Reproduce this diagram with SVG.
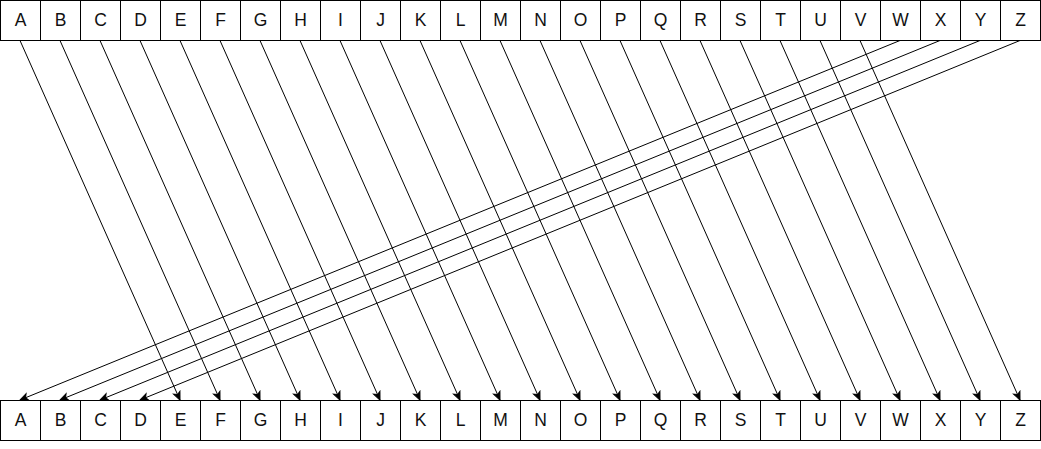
<svg xmlns="http://www.w3.org/2000/svg" width="1041" height="449" viewBox="0 0 1041 449">
<style>
.box rect{fill:#fff;stroke:#000;stroke-width:1}
.box text{font-family:"Liberation Sans",Arial,sans-serif;font-size:17.5px;fill:#111;text-anchor:middle}
.conn line{stroke:#000;stroke-width:1;fill:none;marker-end:url(#arr)}
</style>
<defs>
<marker id="arr" markerUnits="userSpaceOnUse" markerWidth="10" markerHeight="10" viewBox="-9 -4 10 8" refX="0" refY="0" orient="auto">
<path d="M-8,-3.5 L0,0 L-8,3.5 L-6,0 Z" fill="#000" stroke="#000" stroke-width="1"/>
</marker>
</defs>
<rect width="1041" height="449" fill="#fff"/>
<g id="connectors" class="conn">
<line x1="20" y1="40.5" x2="180" y2="400"/>
<line x1="60" y1="40.5" x2="220" y2="400"/>
<line x1="100" y1="40.5" x2="260" y2="400"/>
<line x1="140" y1="40.5" x2="300" y2="400"/>
<line x1="180" y1="40.5" x2="340" y2="400"/>
<line x1="220" y1="40.5" x2="380" y2="400"/>
<line x1="260" y1="40.5" x2="420" y2="400"/>
<line x1="300" y1="40.5" x2="460" y2="400"/>
<line x1="340" y1="40.5" x2="500" y2="400"/>
<line x1="380" y1="40.5" x2="540" y2="400"/>
<line x1="420" y1="40.5" x2="580" y2="400"/>
<line x1="460" y1="40.5" x2="620" y2="400"/>
<line x1="500" y1="40.5" x2="660" y2="400"/>
<line x1="540" y1="40.5" x2="700" y2="400"/>
<line x1="580" y1="40.5" x2="740" y2="400"/>
<line x1="620" y1="40.5" x2="780" y2="400"/>
<line x1="660" y1="40.5" x2="820" y2="400"/>
<line x1="700" y1="40.5" x2="860" y2="400"/>
<line x1="740" y1="40.5" x2="900" y2="400"/>
<line x1="780" y1="40.5" x2="940" y2="400"/>
<line x1="820" y1="40.5" x2="980" y2="400"/>
<line x1="860" y1="40.5" x2="1020" y2="400"/>
<line x1="900" y1="40.5" x2="20" y2="400"/>
<line x1="940" y1="40.5" x2="60" y2="400"/>
<line x1="980" y1="40.5" x2="100" y2="400"/>
<line x1="1020" y1="40.5" x2="140" y2="400"/>
</g>
<g id="top-row">
<g id="top-A" class="box"><rect x="0.5" y="0.5" width="40" height="40"/><text x="20.5" y="26">A</text></g>
<g id="top-B" class="box"><rect x="40.5" y="0.5" width="40" height="40"/><text x="60.5" y="26">B</text></g>
<g id="top-C" class="box"><rect x="80.5" y="0.5" width="40" height="40"/><text x="100.5" y="26">C</text></g>
<g id="top-D" class="box"><rect x="120.5" y="0.5" width="40" height="40"/><text x="140.5" y="26">D</text></g>
<g id="top-E" class="box"><rect x="160.5" y="0.5" width="40" height="40"/><text x="180.5" y="26">E</text></g>
<g id="top-F" class="box"><rect x="200.5" y="0.5" width="40" height="40"/><text x="220.5" y="26">F</text></g>
<g id="top-G" class="box"><rect x="240.5" y="0.5" width="40" height="40"/><text x="260.5" y="26">G</text></g>
<g id="top-H" class="box"><rect x="280.5" y="0.5" width="40" height="40"/><text x="300.5" y="26">H</text></g>
<g id="top-I" class="box"><rect x="320.5" y="0.5" width="40" height="40"/><text x="340.5" y="26">I</text></g>
<g id="top-J" class="box"><rect x="360.5" y="0.5" width="40" height="40"/><text x="380.5" y="26">J</text></g>
<g id="top-K" class="box"><rect x="400.5" y="0.5" width="40" height="40"/><text x="420.5" y="26">K</text></g>
<g id="top-L" class="box"><rect x="440.5" y="0.5" width="40" height="40"/><text x="460.5" y="26">L</text></g>
<g id="top-M" class="box"><rect x="480.5" y="0.5" width="40" height="40"/><text x="500.5" y="26">M</text></g>
<g id="top-N" class="box"><rect x="520.5" y="0.5" width="40" height="40"/><text x="540.5" y="26">N</text></g>
<g id="top-O" class="box"><rect x="560.5" y="0.5" width="40" height="40"/><text x="580.5" y="26">O</text></g>
<g id="top-P" class="box"><rect x="600.5" y="0.5" width="40" height="40"/><text x="620.5" y="26">P</text></g>
<g id="top-Q" class="box"><rect x="640.5" y="0.5" width="40" height="40"/><text x="660.5" y="26">Q</text></g>
<g id="top-R" class="box"><rect x="680.5" y="0.5" width="40" height="40"/><text x="700.5" y="26">R</text></g>
<g id="top-S" class="box"><rect x="720.5" y="0.5" width="40" height="40"/><text x="740.5" y="26">S</text></g>
<g id="top-T" class="box"><rect x="760.5" y="0.5" width="40" height="40"/><text x="780.5" y="26">T</text></g>
<g id="top-U" class="box"><rect x="800.5" y="0.5" width="40" height="40"/><text x="820.5" y="26">U</text></g>
<g id="top-V" class="box"><rect x="840.5" y="0.5" width="40" height="40"/><text x="860.5" y="26">V</text></g>
<g id="top-W" class="box"><rect x="880.5" y="0.5" width="40" height="40"/><text x="900.5" y="26">W</text></g>
<g id="top-X" class="box"><rect x="920.5" y="0.5" width="40" height="40"/><text x="940.5" y="26">X</text></g>
<g id="top-Y" class="box"><rect x="960.5" y="0.5" width="40" height="40"/><text x="980.5" y="26">Y</text></g>
<g id="top-Z" class="box"><rect x="1000.5" y="0.5" width="40" height="40"/><text x="1020.5" y="26">Z</text></g>
</g>
<g id="bottom-row">
<g id="bot-A" class="box"><rect x="0.5" y="400.5" width="40" height="40"/><text x="20.5" y="426">A</text></g>
<g id="bot-B" class="box"><rect x="40.5" y="400.5" width="40" height="40"/><text x="60.5" y="426">B</text></g>
<g id="bot-C" class="box"><rect x="80.5" y="400.5" width="40" height="40"/><text x="100.5" y="426">C</text></g>
<g id="bot-D" class="box"><rect x="120.5" y="400.5" width="40" height="40"/><text x="140.5" y="426">D</text></g>
<g id="bot-E" class="box"><rect x="160.5" y="400.5" width="40" height="40"/><text x="180.5" y="426">E</text></g>
<g id="bot-F" class="box"><rect x="200.5" y="400.5" width="40" height="40"/><text x="220.5" y="426">F</text></g>
<g id="bot-G" class="box"><rect x="240.5" y="400.5" width="40" height="40"/><text x="260.5" y="426">G</text></g>
<g id="bot-H" class="box"><rect x="280.5" y="400.5" width="40" height="40"/><text x="300.5" y="426">H</text></g>
<g id="bot-I" class="box"><rect x="320.5" y="400.5" width="40" height="40"/><text x="340.5" y="426">I</text></g>
<g id="bot-J" class="box"><rect x="360.5" y="400.5" width="40" height="40"/><text x="380.5" y="426">J</text></g>
<g id="bot-K" class="box"><rect x="400.5" y="400.5" width="40" height="40"/><text x="420.5" y="426">K</text></g>
<g id="bot-L" class="box"><rect x="440.5" y="400.5" width="40" height="40"/><text x="460.5" y="426">L</text></g>
<g id="bot-M" class="box"><rect x="480.5" y="400.5" width="40" height="40"/><text x="500.5" y="426">M</text></g>
<g id="bot-N" class="box"><rect x="520.5" y="400.5" width="40" height="40"/><text x="540.5" y="426">N</text></g>
<g id="bot-O" class="box"><rect x="560.5" y="400.5" width="40" height="40"/><text x="580.5" y="426">O</text></g>
<g id="bot-P" class="box"><rect x="600.5" y="400.5" width="40" height="40"/><text x="620.5" y="426">P</text></g>
<g id="bot-Q" class="box"><rect x="640.5" y="400.5" width="40" height="40"/><text x="660.5" y="426">Q</text></g>
<g id="bot-R" class="box"><rect x="680.5" y="400.5" width="40" height="40"/><text x="700.5" y="426">R</text></g>
<g id="bot-S" class="box"><rect x="720.5" y="400.5" width="40" height="40"/><text x="740.5" y="426">S</text></g>
<g id="bot-T" class="box"><rect x="760.5" y="400.5" width="40" height="40"/><text x="780.5" y="426">T</text></g>
<g id="bot-U" class="box"><rect x="800.5" y="400.5" width="40" height="40"/><text x="820.5" y="426">U</text></g>
<g id="bot-V" class="box"><rect x="840.5" y="400.5" width="40" height="40"/><text x="860.5" y="426">V</text></g>
<g id="bot-W" class="box"><rect x="880.5" y="400.5" width="40" height="40"/><text x="900.5" y="426">W</text></g>
<g id="bot-X" class="box"><rect x="920.5" y="400.5" width="40" height="40"/><text x="940.5" y="426">X</text></g>
<g id="bot-Y" class="box"><rect x="960.5" y="400.5" width="40" height="40"/><text x="980.5" y="426">Y</text></g>
<g id="bot-Z" class="box"><rect x="1000.5" y="400.5" width="40" height="40"/><text x="1020.5" y="426">Z</text></g>
</g>
</svg>
